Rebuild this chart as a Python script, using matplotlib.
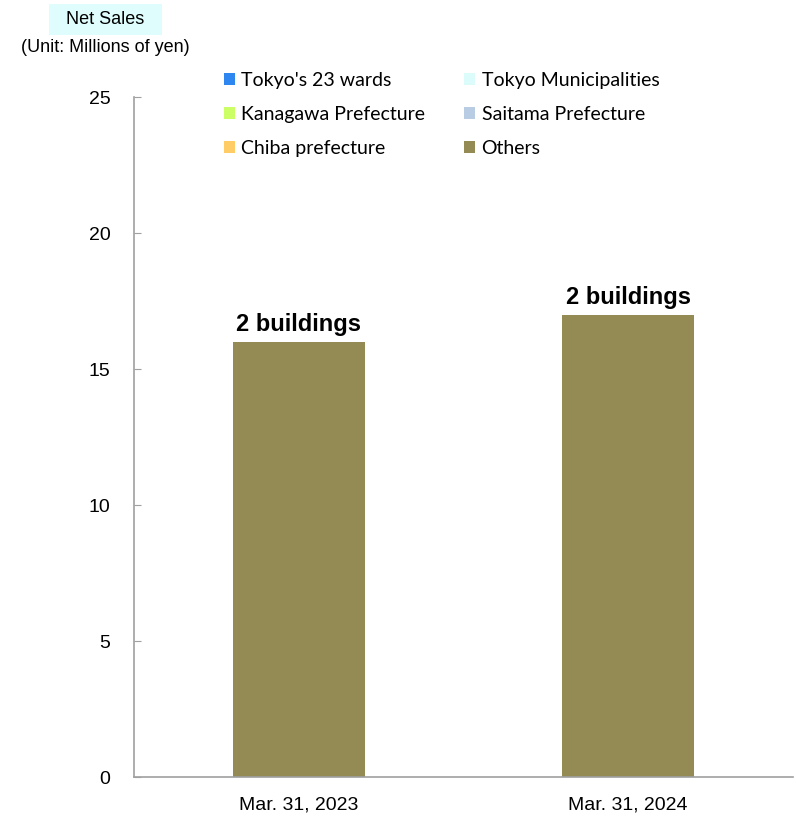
import matplotlib
matplotlib.use("Agg")
import matplotlib.pyplot as plt
from matplotlib.patches import Rectangle
import numpy as np

categories = ["Mar. 31, 2023", "Mar. 31, 2024"]
series_names = ["Tokyo's 23 wards", "Tokyo Municipalities", "Kanagawa Prefecture",
                "Saitama Prefecture", "Chiba prefecture", "Others"]
tokyo23 = [0, 0]
tokyo_muni = [0, 0]
kanagawa = [0, 0]
saitama = [0, 0]
chiba = [0, 0]
others = [16, 17]
bar_labels = ["2 buildings", "2 buildings"]
colors = ["#2e86f0", "#dcfcfc", "#ccff66", "#b8cce4", "#ffcc66", "#948a54"]

narrow = ["Liberation Sans Narrow", "Liberation Sans", "DejaVu Sans"]

fig = plt.figure(figsize=(7.96, 8.17), dpi=100)
ax = fig.add_axes([134/796, 1-777/817, (793-134)/796, (777-97)/817])

x = np.arange(len(categories))
series = [tokyo23, tokyo_muni, kanagawa, saitama, chiba, others]
bottom = np.zeros(len(categories))
containers = []
for name, vals, c in zip(series_names, series, colors):
    bc = ax.bar(x, vals, width=0.4, bottom=bottom, color=c, label=name, linewidth=0)
    containers.append(bc)
    bottom = bottom + np.array(vals)

for xi, total, lab in zip(x, bottom, bar_labels):
    ax.annotate(lab, (xi, total), xytext=(0, 4), textcoords="offset points",
                ha="center", va="bottom", fontsize=17, fontweight="bold",
                family=narrow)

ax.set_xlim(-0.5, 1.5)
ax.set_ylim(0, 25)
ax.set_yticks([0, 5, 10, 15, 20, 25])
ax.set_xticks(x)
ax.set_xticklabels(categories, family=narrow, fontsize=14)
for t in ax.get_yticklabels():
    t.set_family(narrow)
    t.set_fontsize(14)
ax.tick_params(axis="y", direction="in", length=5, color="#a0a0a0", pad=17)
ax.tick_params(axis="x", length=0, pad=14)
for s in ["top", "right"]:
    ax.spines[s].set_visible(False)
for s in ["left", "bottom"]:
    ax.spines[s].set_color("#a0a0a0")
    ax.spines[s].set_linewidth(1.2)

# legend: row-wise order, matplotlib fills column-wise
order = [0, 2, 4, 1, 3, 5]
handles = [containers[i] for i in order]
labels = [series_names[i] for i in order]
leg = fig.legend(handles, labels, ncol=2, loc="upper left",
                 bbox_to_anchor=(224/796, 1-72/817), frameon=False,
                 prop={"family": ["Lato", "DejaVu Sans"], "size": 14},
                 handlelength=0.57, handleheight=0.6, handletextpad=0.32,
                 columnspacing=2.0, labelspacing=0.87, borderpad=0, borderaxespad=0)

fig.patches.append(Rectangle((49/796, 1-35/817), 113/796, 31/817,
                             transform=fig.transFigure, facecolor="#e0fdfd",
                             edgecolor="none", zorder=0))
fig.text(105/796, 1-19/817, "Net Sales", ha="center", va="center", fontsize=13,
         family=narrow)
fig.text(105/796, 1-48/817, "(Unit: Millions of yen)", ha="center", va="center",
         fontsize=13, family=narrow)

fig.savefig("out.png", dpi=100)
